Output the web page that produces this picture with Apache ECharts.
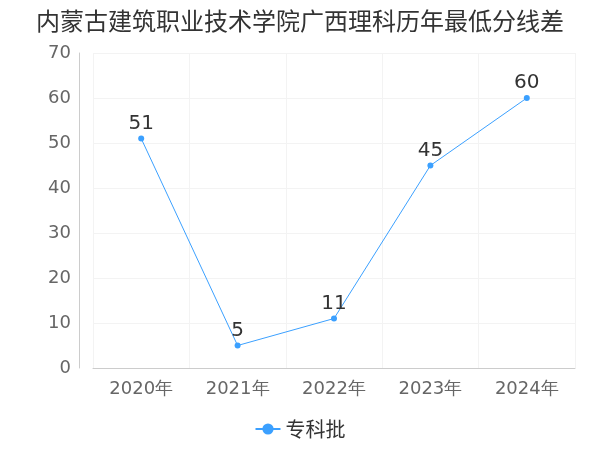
<!DOCTYPE html>
<html><head><meta charset="utf-8">
<script src="https://cdn.jsdelivr.net/npm/echarts@6/dist/echarts.min.js"></script>
<style>html,body{margin:0;padding:0}#c{width:600px;height:450px}</style>
</head><body><div id="c"></div>
<script>
const categories = ['2020年','2021年','2022年','2023年','2024年'];
const values = [51, 5, 11, 45, 60];
const seriesName = '专科批';
const chart = echarts.init(document.getElementById('c'));
chart.setOption({
  title:{text:'内蒙古建筑职业技术学院广西理科历年最低分线差',left:'center',top:4,textStyle:{fontSize:24,fontWeight:'normal',color:'#333',fontFamily:'Noto Sans CJK SC'}},
  grid:{left:93,right:25,top:53,bottom:82},
  legend:{bottom:6,itemWidth:25,textStyle:{fontSize:20,color:'#333',fontFamily:'Noto Sans CJK SC'},data:[seriesName]},
  xAxis:{type:'category',data:categories,boundaryGap:true,
    axisLine:{lineStyle:{color:'#ccc'}},axisTick:{show:false},
    splitLine:{show:true,lineStyle:{color:'#f3f3f3'}},
    axisLabel:{fontSize:18,color:'#666',margin:12,fontFamily:'DejaVu Sans'}},
  yAxis:{type:'value',min:0,max:70,interval:10,offset:14,
    axisLine:{show:true,lineStyle:{color:'#ccc'}},
    splitLine:{lineStyle:{color:'#f3f3f3'}},
    axisLabel:{fontSize:18,color:'#666',margin:8,fontFamily:'DejaVu Sans'}},
  series:[{name:seriesName,type:'line',data:values,symbol:'circle',symbolSize:6,
    itemStyle:{color:'#3ba0ff'},lineStyle:{width:1,color:'#3ba0ff'},
    label:{show:true,position:'top',fontSize:20,color:'#333',distance:2,fontFamily:'DejaVu Sans'}}]
});
</script></body></html>
